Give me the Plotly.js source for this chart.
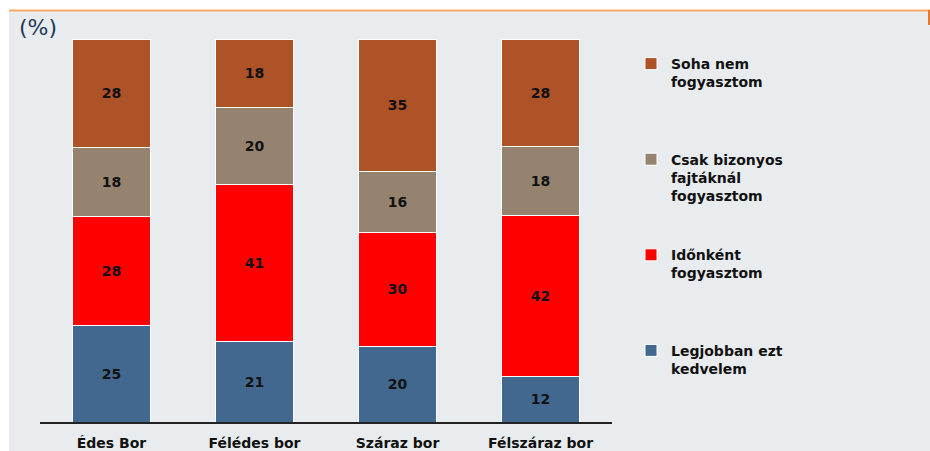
<!DOCTYPE html>
<html>
<head>
<meta charset="utf-8">
<script src="https://cdn.plot.ly/plotly-3.0.1.min.js"></script>
<style>html,body{margin:0;padding:0;background:#fff;}#chart{width:930px;height:451px;}</style>
</head>
<body>
<div id="chart"></div>
<script>
const categories = ["Édes Bor", "Félédes bor", "Száraz bor", "Félszáraz bor"];
const legjobban = [25, 21, 20, 12];
const idonkent = [28, 41, 30, 42];
const csak = [18, 20, 16, 18];
const soha = [28, 18, 35, 28];

const seriesNames = [
  "Legjobban ezt<br>kedvelem<br> ",
  "Időnként<br>fogyasztom<br> ",
  "Csak bizonyos<br>fajtáknál<br>fogyasztom",
  "Soha nem<br>fogyasztom<br> "
];
const seriesValues = [legjobban, idonkent, csak, soha];
const seriesColors = ["#43688F", "#FF0000", "#958370", "#AE5227"];

const FONT = "DejaVu Sans, Verdana, sans-serif";

const traces = seriesValues.map((vals, i) => ({
  type: "bar",
  name: seriesNames[i],
  legendgroup: "g" + i,
  legendrank: 10 - i,
  x: categories,
  y: vals,
  text: vals.map(String),
  texttemplate: "%{text}",
  textposition: "inside",
  insidetextanchor: "middle",
  textangle: 0,
  constraintext: "none",
  textfont: {family: FONT, size: 14, color: "#111", weight: "bold"},
  marker: {color: seriesColors[i], line: {color: "#FFFFFF", width: 1}},
  hoverinfo: "x+y+name"
}));

const L = 40, R = 612, T = 39, B = 422;
const px = v => (v - L) / (R - L);
const py = v => (B - v) / (B - T);

const layout = {
  width: 930, height: 451,
  margin: {l: L, r: 930 - R, t: T, b: 451 - B},
  paper_bgcolor: "#E9ECEE",
  plot_bgcolor: "rgba(0,0,0,0)",
  barmode: "stack",
  barnorm: "percent",
  bargap: 0.45,
  showlegend: true,
  legend: {
    x: px(631), xanchor: "left",
    y: py(48), yanchor: "top",
    traceorder: "grouped",
    tracegroupgap: 38,
    valign: "top",
    bgcolor: "rgba(0,0,0,0)",
    font: {family: FONT, size: 14, color: "#111", weight: "bold"}
  },
  xaxis: {
    type: "category",
    showline: true, linecolor: "#222", linewidth: 1.5,
    showgrid: false, zeroline: false, ticks: "",
    tickfont: {family: FONT, size: 14, color: "#111", weight: "bold"},
    ticklabelstandoff: 7
  },
  yaxis: {
    range: [0, 100], visible: false, fixedrange: true
  },
  shapes: [
    {type: "rect", xref: "paper", yref: "paper", x0: px(0), x1: px(930), y0: py(0), y1: py(10), fillcolor: "#FFFFFF", line: {width: 0}, layer: "below"},
    {type: "rect", xref: "paper", yref: "paper", x0: px(0), x1: px(9), y0: py(0), y1: py(451), fillcolor: "#FFFFFF", line: {width: 0}, layer: "below"},
    {type: "line", xref: "paper", yref: "paper", x0: px(9), x1: px(930), y0: py(10.5), y1: py(10.5), line: {color: "#F9A865", width: 2}},
    {type: "line", xref: "paper", yref: "paper", x0: px(929), x1: px(929), y0: py(10), y1: py(25), line: {color: "#E8772E", width: 2}}
  ],
  annotations: [
    {text: "(%)", xref: "paper", yref: "paper", x: px(17), y: py(28), xanchor: "left", yanchor: "middle", showarrow: false,
     font: {family: FONT, size: 22, color: "#1F3A5A"}}
  ]
};

Plotly.newPlot("chart", traces, layout, {displayModeBar: false, staticPlot: false});
</script>
</body>
</html>
